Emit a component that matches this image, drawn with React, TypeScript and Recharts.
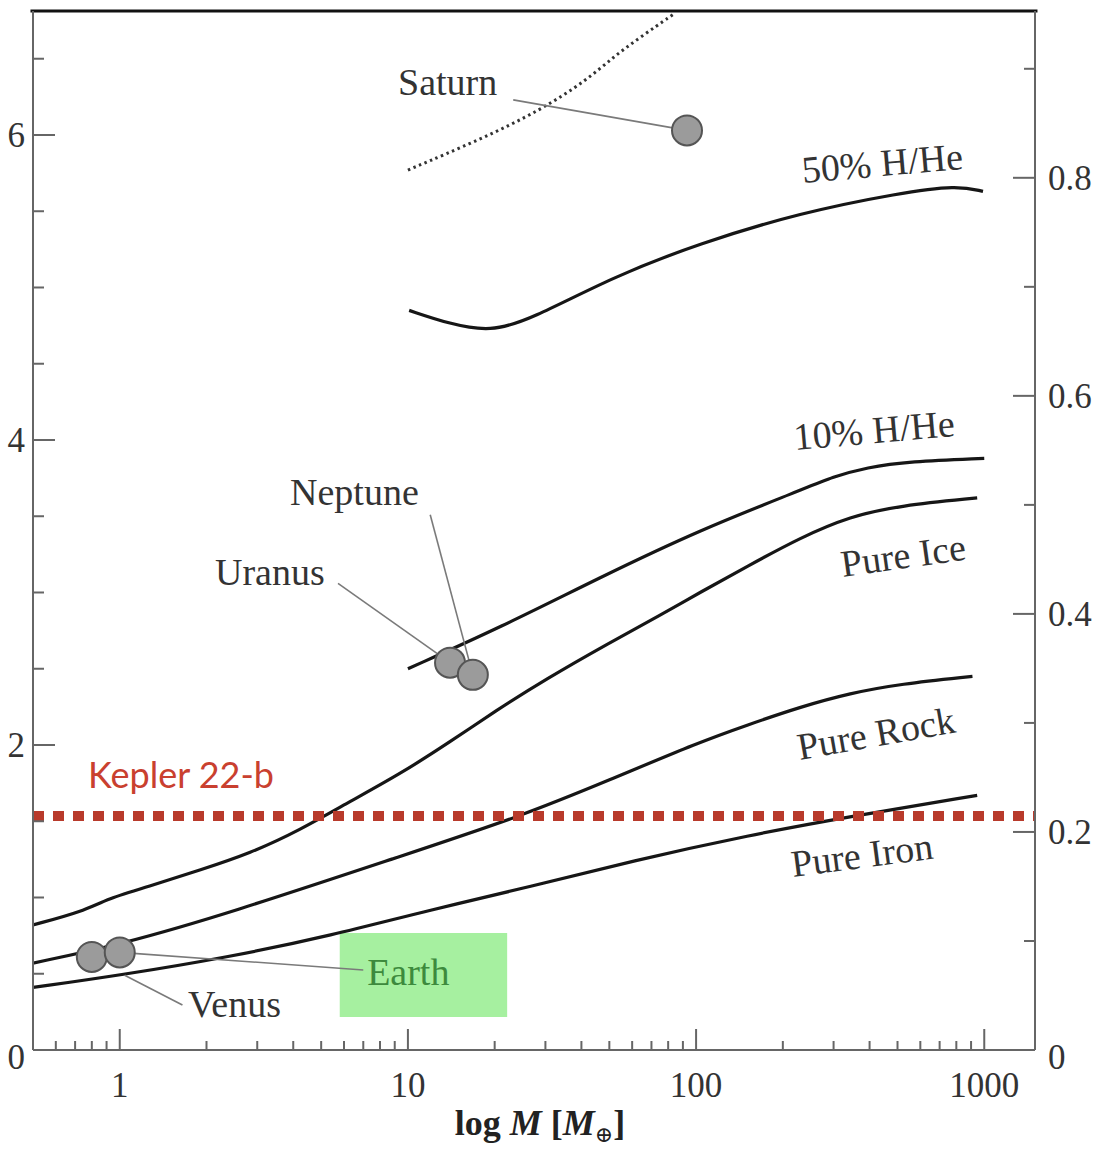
import {
  ComposedChart,
  Line,
  Scatter,
  XAxis,
  YAxis,
  ReferenceLine,
  ReferenceDot,
  ReferenceArea,
} from "recharts";

// mass in Earth masses, radius in Earth radii
const pureIron = [
  [0.5, 0.41], [1, 0.49], [2.4, 0.61], [5.4, 0.75], [12, 0.92],
  [26.6, 1.07], [60, 1.24], [154, 1.41], [341, 1.53], [945, 1.67],
];
const pureRock = [
  [0.5, 0.57], [1, 0.69], [2.42, 0.9], [9.4, 1.27], [24.5, 1.53],
  [50, 1.77], [103, 2.02], [150, 2.13], [230, 2.25], [343, 2.34],
  [510, 2.4], [910, 2.45],
];
const pureIce = [
  [0.5, 0.82], [0.75, 0.91], [0.9, 0.99], [1.3, 1.08], [1.9, 1.18],
  [2.84, 1.29], [4.2, 1.44], [6.3, 1.63], [9.4, 1.81], [14, 2.02],
  [20, 2.22], [30, 2.43], [50, 2.67], [75, 2.85], [103, 3.0],
  [150, 3.17], [230, 3.36], [343, 3.5], [510, 3.57], [945, 3.62],
];
const tenPctGas = [
  [10, 2.5], [20.9, 2.77], [46.5, 3.1], [103, 3.41], [230, 3.67],
  [300, 3.76], [390, 3.82], [550, 3.86], [1000, 3.88],
];
const fiftyPctGas = [
  [10.1, 4.85], [14, 4.76], [19.3, 4.71], [26.6, 4.79], [51.5, 5.07],
  [103, 5.29], [230, 5.49], [510, 5.62], [805, 5.67], [990, 5.63],
];
const pureGas = [
  [10, 5.77], [17.8, 5.97], [28.7, 6.16], [41.8, 6.36], [51.5, 6.51],
  [63.9, 6.64], [83.2, 6.79],
];

const planetNames = ["Venus", "Earth", "Uranus", "Neptune", "Saturn"];
const planetMass = [0.8, 1.0, 14.0, 16.8, 93];
const planetRadius = [0.61, 0.64, 2.54, 2.46, 6.03];

const kepler22bRadius = 1.535;

const massTicks = [
  0.6, 0.7, 0.8, 0.9, 1, 2, 3, 4, 5, 6, 7, 8, 9, 10, 20, 30, 40, 50, 60, 70,
  80, 90, 100, 200, 300, 400, 500, 600, 700, 800, 900, 1000,
];
const massLabels = [1, 10, 100, 1000];
const earthRadiusTicks = [0, 0.5, 1, 1.5, 2, 2.5, 3, 3.5, 4, 4.5, 5, 5.5, 6, 6.5];
const earthRadiusLabels = [0, 2, 4, 6];
const jupiterRadiusTicks = [0, 0.1, 0.2, 0.3, 0.4, 0.5, 0.6, 0.7, 0.8, 0.9];
const jupiterRadiusLabels = [0, 0.2, 0.4, 0.6, 0.8];

const SERIF = "'Liberation Serif', 'DejaVu Serif', serif";
const AXIS = "#666";
const INK = "#333";
const RED = "#b83a2b";

const toPoints = (pts: number[][]) => pts.map(([m, r]) => ({ m, r }));

const planets = planetNames.map((name, i) => ({
  name,
  m: planetMass[i],
  r: planetRadius[i],
}));

function MassTick({ x, y, payload }: any) {
  const major = massLabels.includes(payload.value);
  return (
    <g>
      <line x1={x} y1={y} x2={x} y2={y - (major ? 21 : 9)} stroke={AXIS} strokeWidth={2} />
      {major && (
        <text x={x} y={y + 47} textAnchor="middle" fontSize={35} fill={INK} fontFamily={SERIF}>
          {payload.value}
        </text>
      )}
    </g>
  );
}

function LeftTick({ x, y, payload }: any) {
  const major = earthRadiusLabels.includes(payload.value);
  return (
    <g>
      <line x1={x} y1={y} x2={x + (major ? 22 : 11)} y2={y} stroke={AXIS} strokeWidth={2} />
      {major && (
        <text
          x={x - 8}
          y={y + (payload.value === 0 ? 7 : 0)}
          dy="0.35em"
          textAnchor="end"
          fontSize={35}
          fill={INK}
          fontFamily={SERIF}
        >
          {payload.value}
        </text>
      )}
    </g>
  );
}

function RightTick({ x, y, payload }: any) {
  const v = payload.value;
  const major = jupiterRadiusLabels.some((l) => Math.abs(l - v) < 1e-6);
  return (
    <g>
      <line x1={x} y1={y} x2={x - (major ? 22 : 11)} y2={y} stroke={AXIS} strokeWidth={2} />
      {major && (
        <text
          x={x + 13}
          y={y + (v === 0 ? 7 : 0)}
          dy="0.35em"
          textAnchor="start"
          fontSize={35}
          fill={INK}
          fontFamily={SERIF}
        >
          {v === 0 ? "0" : v.toFixed(1)}
        </text>
      )}
    </g>
  );
}

function AxisTitle({ viewBox }: any) {
  const cx = viewBox.x + viewBox.width / 2 + 6;
  return (
    <text x={cx} y={viewBox.y + 85} textAnchor="middle" fontFamily={SERIF} fontSize={36} fontWeight="bold" fill="#222">
      <tspan>log </tspan>
      <tspan fontStyle="italic">M</tspan>
      <tspan> [</tspan>
      <tspan fontStyle="italic">M</tspan>
      <tspan fontSize={22} fontWeight="normal" dy={7}>⊕</tspan>
      <tspan dy={-7}>]</tspan>
    </text>
  );
}

// text placed at a data position, optionally rotated about its anchor
const note = (
  text: string,
  opts: { angle?: number; size?: number; color?: string; font?: string } = {}
) => (p: any) => (
  <text
    x={p.cx}
    y={p.cy}
    fontFamily={opts.font ?? SERIF}
    fontSize={opts.size ?? 38}
    fill={opts.color ?? INK}
    transform={opts.angle ? `rotate(${opts.angle}, ${p.cx}, ${p.cy})` : undefined}
  >
    {text}
  </text>
);

// basis splines keep the model curves free of corners
const curveProps = {
  type: "basis" as const,
  dataKey: "r",
  yAxisId: "re",
  dot: false,
  activeDot: false,
  stroke: "#161616",
  strokeWidth: 3.2,
  isAnimationActive: false,
};

const leaderProps = {
  yAxisId: "re",
  stroke: "#7a7a7a",
  strokeWidth: 1.6,
  ifOverflow: "visible" as const,
};

export default function App() {
  return (
    <div style={{ position: "absolute", left: 0, top: 0, background: "#fff" }}>
      <ComposedChart width={1097} height={1155} margin={{ top: 11, right: 0, bottom: 0, left: 0 }}>
        <XAxis
          type="number"
          dataKey="m"
          scale="log"
          domain={[0.5, 1500]}
          allowDataOverflow
          ticks={massTicks}
          interval={0}
          tick={(p: any) => <MassTick {...p} />}
          tickLine={false}
          tickSize={0}
          tickMargin={0}
          axisLine={{ stroke: AXIS, strokeWidth: 2 }}
          height={105}
          label={{ content: (p: any) => <AxisTitle {...p} /> }}
        />
        <YAxis
          yAxisId="re"
          type="number"
          domain={[0, 6.813]}
          allowDataOverflow
          ticks={earthRadiusTicks}
          interval={0}
          tick={(p: any) => <LeftTick {...p} />}
          tickLine={false}
          tickSize={0}
          tickMargin={0}
          axisLine={{ stroke: AXIS, strokeWidth: 2 }}
          width={33}
        />
        <YAxis
          yAxisId="rj"
          orientation="right"
          type="number"
          domain={[0, 0.953]}
          allowDataOverflow
          ticks={jupiterRadiusTicks}
          interval={0}
          tick={(p: any) => <RightTick {...p} />}
          tickLine={false}
          tickSize={0}
          tickMargin={0}
          axisLine={{ stroke: AXIS, strokeWidth: 2 }}
          width={62}
        />

        {/* frame line along the top */}
        <ReferenceLine
          yAxisId="re"
          segment={[{ x: 0.49, y: 6.813 }, { x: 1530, y: 6.813 }]}
          stroke="#111"
          strokeWidth={3}
          ifOverflow="visible"
        />

        <ReferenceArea
          yAxisId="re"
          x1={5.8}
          x2={22.1}
          y1={0.216}
          y2={0.767}
          fill="#a6f0a0"
          fillOpacity={1}
          stroke="none"
        />

        <Line data={toPoints(pureIron)} {...curveProps} />
        <Line data={toPoints(pureRock)} {...curveProps} />
        <Line data={toPoints(pureIce)} {...curveProps} />
        <Line data={toPoints(tenPctGas)} {...curveProps} />
        <Line data={toPoints(fiftyPctGas)} {...curveProps} />
        <Line data={toPoints(pureGas)} {...curveProps} stroke="#333" strokeWidth={3} strokeDasharray="2.5 3.5" />

        <ReferenceLine
          yAxisId="re"
          y={kepler22bRadius}
          stroke={RED}
          strokeWidth={10}
          strokeDasharray="11 9"
        />

        {/* leader lines from labels to planets */}
        <ReferenceLine {...leaderProps} segment={[{ x: 23.2, y: 6.23 }, { x: planetMass[4], y: planetRadius[4] }]} />
        <ReferenceLine {...leaderProps} segment={[{ x: 5.72, y: 3.06 }, { x: planetMass[2], y: planetRadius[2] }]} />
        <ReferenceLine {...leaderProps} segment={[{ x: 11.95, y: 3.51 }, { x: planetMass[3], y: planetRadius[3] }]} />
        <ReferenceLine {...leaderProps} segment={[{ x: 7.0, y: 0.525 }, { x: planetMass[1], y: planetRadius[1] }]} />
        <ReferenceLine {...leaderProps} segment={[{ x: 1.65, y: 0.295 }, { x: 1.04, y: 0.49 }]} />

        <Scatter
          data={planets}
          dataKey="r"
          yAxisId="re"
          isAnimationActive={false}
          shape={(p: any) => (
            <circle cx={p.cx} cy={p.cy} r={15} fill="#9b9b9b" stroke="#555" strokeWidth={2} />
          )}
        />

        <ReferenceDot yAxisId="re" x={9.24} y={6.262} ifOverflow="visible" shape={note("Saturn")} />
        <ReferenceDot yAxisId="re" x={3.9} y={3.574} ifOverflow="visible" shape={note("Neptune")} />
        <ReferenceDot yAxisId="re" x={2.14} y={3.049} ifOverflow="visible" shape={note("Uranus")} />
        <ReferenceDot yAxisId="re" x={1.726} y={0.216} ifOverflow="visible" shape={note("Venus")} />
        <ReferenceDot yAxisId="re" x={7.22} y={0.426} ifOverflow="visible" shape={note("Earth", { color: "#3d8a3d" })} />
        <ReferenceDot
          yAxisId="re"
          x={0.776}
          y={1.718}
          ifOverflow="visible"
          shape={note("Kepler 22-b", { font: "Lato, 'Open Sans', sans-serif", size: 36, color: "#c9402f" })}
        />

        <ReferenceDot yAxisId="re" x={235} y={5.685} ifOverflow="visible" shape={note("50% H/He", { angle: -5 })} />
        <ReferenceDot yAxisId="re" x={220} y={3.934} ifOverflow="visible" shape={note("10% H/He", { angle: -5 })} />
        <ReferenceDot yAxisId="re" x={323} y={3.102} ifOverflow="visible" shape={note("Pure Ice", { angle: -8 })} />
        <ReferenceDot yAxisId="re" x={229} y={1.902} ifOverflow="visible" shape={note("Pure Rock", { angle: -10 })} />
        <ReferenceDot yAxisId="re" x={217} y={1.134} ifOverflow="visible" shape={note("Pure Iron", { angle: -7.5 })} />
      </ComposedChart>
    </div>
  );
}
